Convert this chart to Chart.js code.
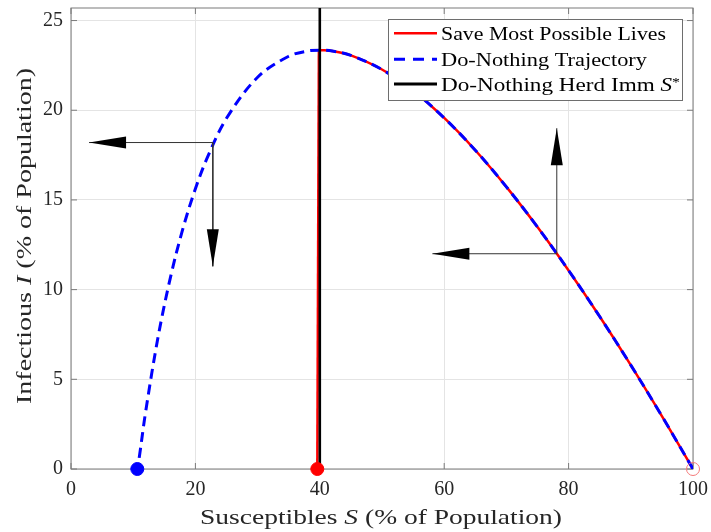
<!DOCTYPE html>
<html><head><meta charset="utf-8">
<script src="https://cdn.jsdelivr.net/npm/chart.js@4.4.0/dist/chart.umd.min.js"></script>
<style>html,body{margin:0;padding:0;background:#fff;}#wrap{width:711px;height:532px;position:relative;}</style>
</head><body><div id="wrap"><canvas id="c"></canvas></div>
<script>
// ---- data ----
const trajS = [100,95,90,85,80,75,70,65,60,55,50,45,42,40,38,35,30,25,22,20,18,16,14,12,11,10.66];
const trajI = [0,2.95,5.79,8.50,11.07,13.49,15.73,17.77,19.57,21.09,22.27,23.06,23.30,23.35,23.30,23.01,21.84,19.55,17.43,15.62,13.41,10.70,7.36,3.19,0.71,0];
const saveS = [100,95,90,85,80,75,70,65,60,55,50,45,42,40];
const saveI = [0,2.95,5.79,8.50,11.07,13.49,15.73,17.77,19.57,21.09,22.27,23.06,23.30,23.35];
const dropS = [39.85,39.6];
const dropI = [23.35,0];
const herdS = 40;
const endPoint = [10.66,0];
const saveEnd = [39.6,0];
const startPoint = [100,0];
const arrowFrom = [[22.8,18.2],[22.8,18.2],[78.1,12.0],[78.1,12.0]];
const arrowTo   = [[2.9,18.2],[22.8,11.3],[78.1,19.0],[58.1,12.0]];
const xTicks = [0,20,40,60,80,100];
const yTicks = [0,5,10,15,20,25];
const xMin = 0, xMax = 100, yMin = 0, yMax = 25.7;
const legendLabels = ['Save Most Possible Lives','Do-Nothing Trajectory','Do-Nothing Herd Imm '];

const pts = (xs, ys) => xs.map((x,i)=>({x:x,y:ys[i]}));
const SERIF = '"Liberation Serif", "Times New Roman", serif';

const datasets = [
  {type:'scatter', data:[{x:endPoint[0],y:endPoint[1]}], pointRadius:6.5, pointBackgroundColor:'#0000ff', pointBorderColor:'#0000ff', pointBorderWidth:1, clip:false, order:0},
  {type:'scatter', data:[{x:saveEnd[0],y:saveEnd[1]}], pointRadius:6.5, pointBackgroundColor:'#ff0000', pointBorderColor:'#ff0000', pointBorderWidth:1, clip:false, order:0},
  {type:'scatter', data:[{x:startPoint[0],y:startPoint[1]}], pointRadius:6.5, pointBackgroundColor:'rgba(0,0,0,0)', pointBorderColor:'#f47a7a', pointBorderWidth:1, clip:false, order:0},
];
arrowFrom.forEach((f,i)=>{
  datasets.push({type:'line', data:[{x:f[0],y:f[1]},{x:arrowTo[i][0],y:arrowTo[i][1]}], borderColor:'#333333', borderWidth:1, pointRadius:0, tension:0, order:1});
});
datasets.push({type:'line', data:[{x:herdS,y:yMin},{x:herdS,y:yMax}], borderColor:'#000000', borderWidth:2.6, pointRadius:0, tension:0, order:2});
datasets.push({type:'line', data:pts(trajS,trajI), borderColor:'#0000ff', borderWidth:3, borderDash:[10,6], pointRadius:0, tension:0.35, order:3});
datasets.push({type:'line', data:pts(saveS,saveI), borderColor:'#ff0000', borderWidth:2.5, pointRadius:0, tension:0.35, order:4});
datasets.push({type:'line', data:pts(dropS,dropI), borderColor:'#ff0000', borderWidth:2.5, pointRadius:0, tension:0, order:4});

function drawRich(ctx, parts, targetW, align){
  let total = 0;
  parts.forEach(p=>{ctx.font=p.f; p.w=ctx.measureText(p.t).width; total+=p.w;});
  const s = targetW/total;
  ctx.save();
  ctx.scale(s,1);
  let x = align==='center' ? -total/2 : 0;
  ctx.textBaseline='alphabetic'; ctx.textAlign='left';
  parts.forEach(p=>{ctx.font=p.f; ctx.fillText(p.t,x,p.dy||0); x+=p.w;});
  ctx.restore();
}

const decor = {
  id:'decor',
  beforeDatasetsDraw(chart){
    const ctx = chart.ctx, a = chart.chartArea, xs = chart.scales.x, ys = chart.scales.y;
    ctx.save();
    ctx.strokeStyle = '#7a7a7a'; ctx.lineWidth = 1;
    ctx.strokeRect(a.left, a.top, a.right-a.left, a.bottom-a.top);
    ctx.beginPath();
    xTicks.forEach(v=>{const px=xs.getPixelForValue(v); ctx.moveTo(px,a.bottom); ctx.lineTo(px,a.bottom-6); ctx.moveTo(px,a.top); ctx.lineTo(px,a.top+6);});
    yTicks.forEach(v=>{const py=ys.getPixelForValue(v); ctx.moveTo(a.left,py); ctx.lineTo(a.left+6,py); ctx.moveTo(a.right,py); ctx.lineTo(a.right-6,py);});
    ctx.stroke();
    ctx.restore();
  },
  afterDatasetsDraw(chart){
    const ctx = chart.ctx, xs = chart.scales.x, ys = chart.scales.y;
    ctx.save();
    // arrowheads
    ctx.fillStyle = '#000';
    arrowFrom.forEach((f,i)=>{
      const x0=xs.getPixelForValue(f[0]), y0=ys.getPixelForValue(f[1]);
      const x1=xs.getPixelForValue(arrowTo[i][0]), y1=ys.getPixelForValue(arrowTo[i][1]);
      const L=Math.hypot(x1-x0,y1-y0), ux=(x1-x0)/L, uy=(y1-y0)/L;
      const hl=37, hw=6;
      ctx.beginPath();
      ctx.moveTo(x1,y1);
      ctx.lineTo(x1-ux*hl-uy*hw, y1-uy*hl+ux*hw);
      ctx.lineTo(x1-ux*hl+uy*hw, y1-uy*hl-ux*hw);
      ctx.closePath(); ctx.fill();
    });
    // legend
    const bx=388, by=19, bw=294, bh=81;
    ctx.fillStyle='#fff'; ctx.fillRect(bx,by,bw,bh);
    ctx.strokeStyle='#6e6e6e'; ctx.lineWidth=1; ctx.strokeRect(bx+0.5,by+0.5,bw,bh);
    const rows=[33.3,59.3,84];
    const colors=['#ff0000','#0000ff','#000000'];
    const widths=[2.5,3,3];
    rows.forEach((ry,i)=>{
      ctx.beginPath(); ctx.strokeStyle=colors[i]; ctx.lineWidth=widths[i];
      ctx.setLineDash(i===1?[11,8]:[]);
      ctx.moveTo(394,ry); ctx.lineTo(437,ry); ctx.stroke();
    });
    ctx.setLineDash([]);
    ctx.fillStyle='#000';
    const targets=[225,206,239];
    rows.forEach((ry,i)=>{
      ctx.save(); ctx.translate(441, ry+6.5);
      const parts=[{t:legendLabels[i], f:'19px '+SERIF}];
      if(i===2){ parts.push({t:'S', f:'italic 19px '+SERIF}); parts.push({t:'*', f:'13px '+SERIF, dy:-5}); }
      drawRich(ctx, parts, targets[i], 'left');
      ctx.restore();
    });
    // axis titles
    ctx.fillStyle='#262626';
    ctx.save(); ctx.translate(381, 524);
    drawRich(ctx, [{t:'Susceptibles ', f:'22px '+SERIF},{t:'S', f:'italic 22px '+SERIF},{t:' (% of Population)', f:'22px '+SERIF}], 362, 'center');
    ctx.restore();
    ctx.save(); ctx.translate(31, 236); ctx.rotate(-Math.PI/2);
    drawRich(ctx, [{t:'Infectious ', f:'22px '+SERIF},{t:'I', f:'italic 22px '+SERIF},{t:' (% of Population)', f:'22px '+SERIF}], 336, 'center');
    ctx.restore();
    ctx.restore();
  }
};

new Chart(document.getElementById('c'), {
  data:{datasets:datasets},
  options:{
    responsive:true, maintainAspectRatio:false, animation:false,
    layout:{padding:{top:8,right:18,left:0,bottom:0}},
    plugins:{legend:{display:false}, tooltip:{enabled:false}},
    scales:{
      x:{type:'linear', min:xMin, max:xMax,
         afterFit(s){s.height=63; s.paddingLeft=0; s.paddingRight=0; s.paddingTop=0; s.paddingBottom=0;},
         afterBuildTicks(s){s.ticks=xTicks.map(v=>({value:v}));},
         ticks:{color:'#262626', font:{family:SERIF, size:20}, padding:9, maxRotation:0, includeBounds:false},
         grid:{color:'#e4e4e4', drawTicks:false}, border:{display:false}},
      y:{type:'linear', min:yMin, max:yMax,
         afterFit(s){s.width=71; s.paddingLeft=0; s.paddingRight=0; s.paddingTop=0; s.paddingBottom=0;},
         afterBuildTicks(s){s.ticks=yTicks.map(v=>({value:v}));},
         ticks:{color:'#262626', font:{family:SERIF, size:20}, padding:8, includeBounds:false},
         grid:{color:'#e4e4e4', drawTicks:false}, border:{display:false}}
    }
  },
  plugins:[decor]
});
</script></body></html>
